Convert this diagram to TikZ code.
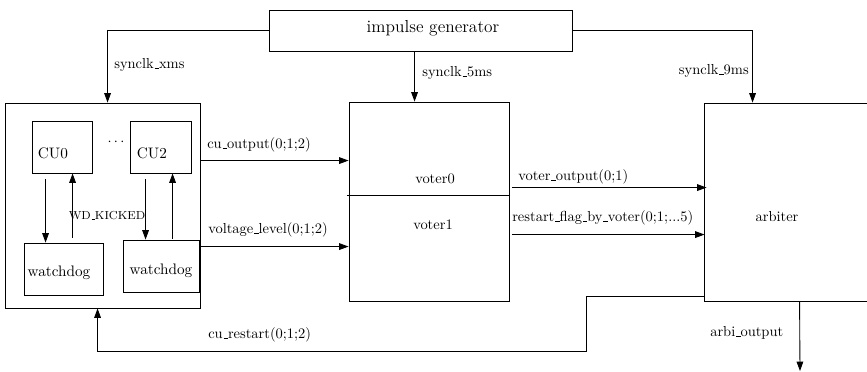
\documentclass[tikz,border=0pt]{standalone}
\usetikzlibrary{arrows.meta,fit}
\newcommand\usc{\leavevmode\kern.06em\vbox{\hrule width.3em}}
\begin{document}
\begin{tikzpicture}[x=0.69pt,y=-0.69pt,
  box/.style={draw,line width=0.6pt,inner sep=0pt,rectangle},
  arr/.style={line width=0.6pt,-{Triangle[length=6.5pt,width=4.6pt]}},
  wire/.style={line width=0.6pt},
  lbl/.style={inner sep=0pt,font=\normalsize},
  blbl/.style={inner sep=0pt,font=\fontsize{10.5}{12}\selectfont}]
\useasboundingbox (0,0) rectangle (867,372);
\clip (0,0) rectangle (867,372);
% boxes
\node[box,fit={(269,10) (572,51)}] (gen) {};
\node[lbl,font=\large] (gent) at (433,28) {impulse generator};
\node[box,fit={(5,103) (200,308)}] (outer) {};
\node[box,fit={(32,121) (92,173)}] (cu0) {};
\node[blbl] (cu0t) at (53,153) {CU0};
\node[box,fit={(130,121) (191,173)}] (cu2) {};
\node[blbl] (cu2t) at (152,153) {CU2};
\node[lbl] (dots) at (116,142) {$\cdots$};
\node[box,fit={(24,243) (103,295)}] (wd0) {};
\node[blbl] (wd0t) at (59,273) {watchdog};
\node[box,fit={(123,240) (199,292)}] (wd2) {};
\node[blbl] (wd2t) at (161,271) {watchdog};
\node[lbl,font=\footnotesize] (wdk) at (107,216) {WD\usc KICKED};
\node[box,fit={(349,102) (509,301)}] (voter) {};
\node[lbl] (v0) at (435,179) {voter0};
\node[lbl] (v1) at (433,225) {voter1};
\node[box,fit={(704,103) (872,301)}] (arb) {};
\node[lbl] (arbt) at (777,217) {arbiter};
\coordinate (aout) at (800,371);
% inner arrows
\draw[arr] ([shift={(14,6)}]cu0.south west) -- ([shift={(22,0)}]wd0.north west);
\draw[arr] ([shift={(49,-5)}]wd0.north west) -- ([shift={(41,0)}]cu0.south west);
\draw[arr] ([shift={(16,6)}]cu2.south west) -- ([shift={(23,0)}]wd2.north west);
\draw[arr] ([shift={(50,-1)}]wd2.north west) -- ([shift={(43,0)}]cu2.south west);
% divider in voter
\draw[wire] ([shift={(-2,94)}]voter.north west) -- ([shift={(0,94)}]voter.north east);
% clocks
\draw[arr] (gen.west) -| ([shift={(103,0)}]outer.north west);
\node[lbl,anchor=west] (sxms) at (114,65) {synclk\usc xms};
\draw[arr] ([shift={(146,0)}]gen.south west) -- ([shift={(66,0)}]voter.north west);
\node[lbl,anchor=west] (s5ms) at (422,73) {synclk\usc 5ms};
\draw[arr] (gen.east) -| ([shift={(49,0)}]arb.north west);
\node[lbl,anchor=east] (s9ms) at (749,71) {synclk\usc 9ms};
% outer -> voter
\draw[arr] ([shift={(0,58)}]outer.north east) -- ([shift={(0,59)}]voter.north west);
\node[lbl,anchor=west] (cuo) at (207,145) {cu\usc output(0;1;2)};
\draw[arr] ([shift={(0,144)}]outer.north east) -- ([shift={(0,145)}]voter.north west);
\node[lbl,anchor=west] (vl) at (208,230) {voltage\usc level(0;1;2)};
% voter -> arbiter
\draw[arr] ([shift={(3,86)}]voter.north east) -- ([shift={(3,85)}]arb.north west);
\node[lbl,anchor=west] (vo) at (518,177) {voter\usc output(0;1)};
\draw[arr] ([shift={(3,133)}]voter.north east) -- ([shift={(1,132)}]arb.north west);
\node[lbl,anchor=west] (rf) at (512,218) {restart\usc flag\usc by\usc voter(0;1;...5)};
% arbiter output
\draw[arr] ([shift={(96,0)}]arb.south west) -- (aout);
\node[lbl,anchor=west] (ao) at (710,333) {arbi\usc output};
% restart
\draw[arr] ([shift={(0,-5)}]arb.south west) -- ++(-117,0) -- ++(0,55) -| ([shift={(93,0)}]outer.south west);
\node[lbl,anchor=west] (cr) at (208,335) {cu\usc restart(0;1;2)};
\end{tikzpicture}
\end{document}
